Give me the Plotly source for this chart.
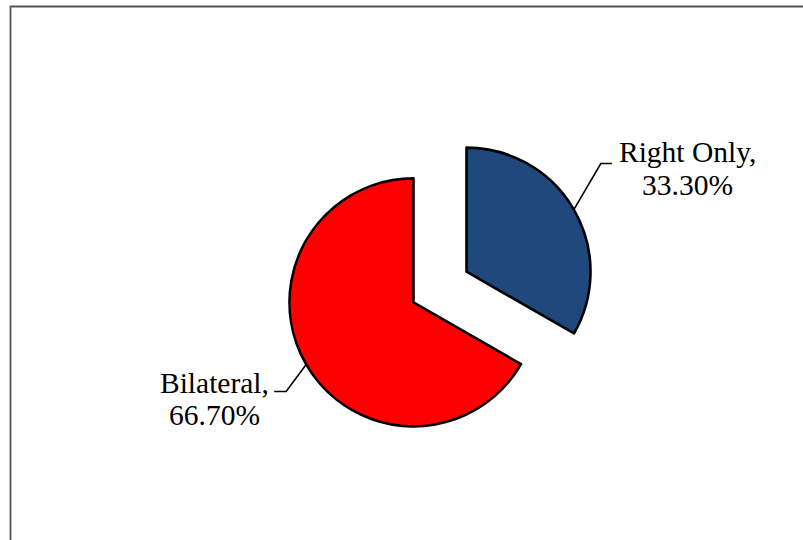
import math
import plotly.graph_objects as go

# Data
labels = ["Right Only", "Bilateral"]
values = [33.3, 66.7]
colors = ["#1F497D", "#FF0000"]
pulls = [0.247, 0.247]

W, H = 803, 540

# Pie placement (pixels) -> paper domain
cx_px, cy_px = 440.0, 287.0
radius_px = 124.0
max_pull = max(pulls)
half = radius_px * (1 + max_pull)
dom_y = [1 - (cy_px + half) / H, 1 - (cy_px - half) / H]
dom_x = [(cx_px - 200) / W, (cx_px + 200) / W]

fig = go.Figure(
    go.Pie(
        labels=labels,
        values=values,
        sort=False,
        direction="clockwise",
        rotation=0,
        pull=pulls,
        marker=dict(colors=colors, line=dict(color="#000000", width=2.6)),
        textinfo="none",
        hoverinfo="label+percent",
        showlegend=False,
        domain=dict(x=dom_x, y=dom_y),
    )
)


def px_to_paper(x, y):
    return x / W, 1 - y / H


# Data labels with leader lines, anchored at each slice's mid-angle
total = sum(values)
start = 0.0
label_cfg = [
    # elbow offset from arc point, horizontal tail, text centre x, first baseline y
    dict(elbow=(27, -46), tail=11, text_x=687, base_y=163),
    dict(elbow=(-20, 27), tail=-12, text_x=214, base_y=393),
]
font = dict(family="Liberation Serif, Times New Roman, serif", size=29.5, color="#000000")
annotations = []
shapes = []
for lab, val, pull, cfg in zip(labels, values, pulls, label_cfg):
    span = 360.0 * val / total
    mid = math.radians(start + span / 2)
    start += span
    dx, dy = math.sin(mid), -math.cos(mid)
    vx = cx_px + pull * radius_px * dx
    vy = cy_px + pull * radius_px * dy
    ax, ay = vx + radius_px * dx, vy + radius_px * dy
    ex, ey = ax + cfg["elbow"][0], ay + cfg["elbow"][1]
    tx = ex + cfg["tail"]
    pts = [px_to_paper(ax, ay), px_to_paper(ex, ey), px_to_paper(tx, ey)]
    path = "M {:.5f},{:.5f} L {:.5f},{:.5f} L {:.5f},{:.5f}".format(
        pts[0][0], pts[0][1], pts[1][0], pts[1][1], pts[2][0], pts[2][1]
    )
    shapes.append(dict(type="path", xref="paper", yref="paper", path=path,
                       line=dict(color="#000000", width=1.6)))
    lines = [f"{lab},", f"{val:.2f}%"]
    for i, line in enumerate(lines):
        bx, by = px_to_paper(cfg["text_x"], cfg["base_y"] + i * 32)
        annotations.append(dict(
            x=bx, y=by, xref="paper", yref="paper", text=line, showarrow=False,
            xanchor="center", yanchor="bottom", yshift=-7.5, font=font,
        ))

# Chart-area frame
fx0, fy0 = px_to_paper(10.5, 6.5)
fx1, fy1 = px_to_paper(W + 10, H + 10)
shapes.append(dict(type="rect", xref="paper", yref="paper",
                   x0=fx0, y0=fy0, x1=fx1, y1=fy1,
                   line=dict(color="#555555", width=1.8), layer="below"))

fig.update_layout(
    width=W,
    height=H,
    margin=dict(l=0, r=0, t=0, b=0),
    paper_bgcolor="#FFFFFF",
    plot_bgcolor="#FFFFFF",
    annotations=annotations,
    shapes=shapes,
)

fig.write_html("out.html")
